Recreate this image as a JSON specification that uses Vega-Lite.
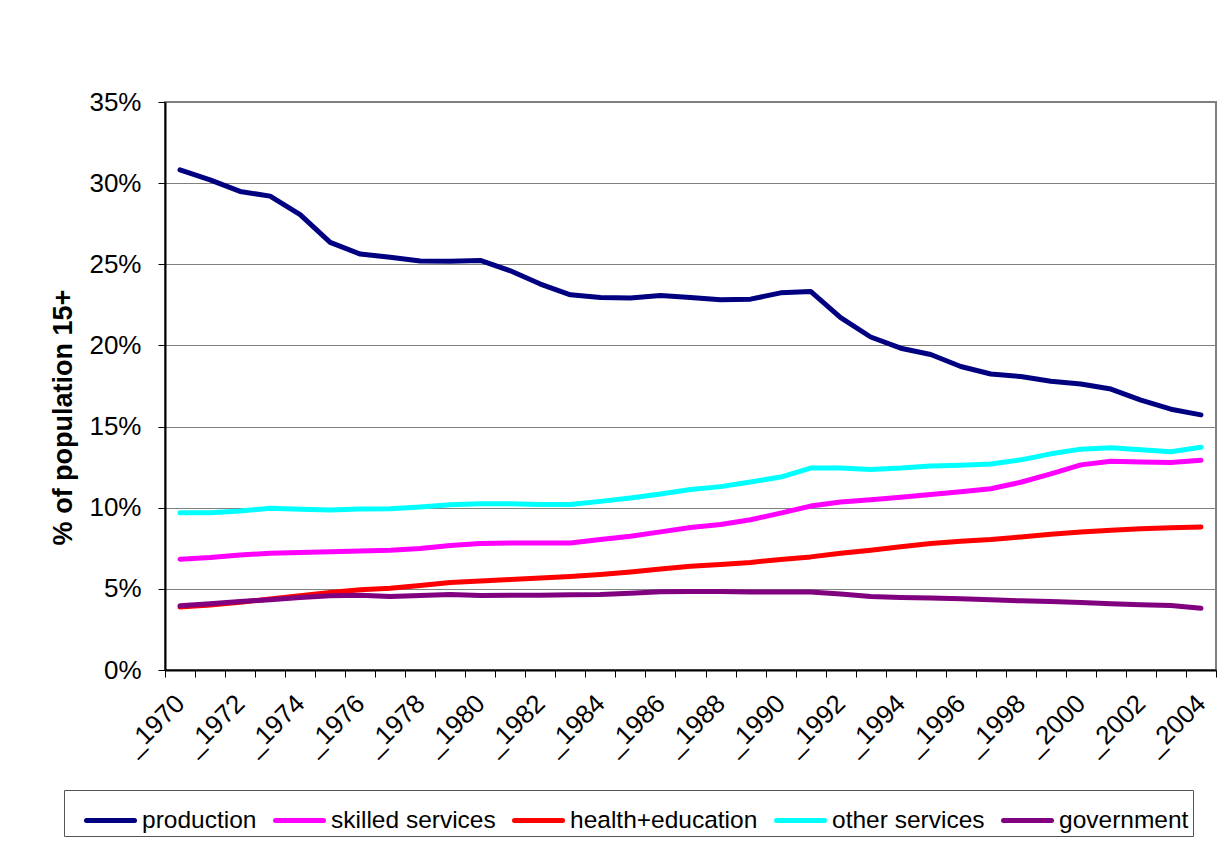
{
  "$schema": "https://vega.github.io/schema/vega-lite/v6.json",
  "autosize": "none",
  "width": 1051,
  "height": 568,
  "padding": {"left": 165, "top": 102, "right": 11, "bottom": 182},
  "background": "white",
  "data": {
    "values": [
      {"year": "_1970", "sector": "production", "pct": 30.82},
      {"year": "_1971", "sector": "production", "pct": 30.2},
      {"year": "_1972", "sector": "production", "pct": 29.49},
      {"year": "_1973", "sector": "production", "pct": 29.2},
      {"year": "_1974", "sector": "production", "pct": 28.06},
      {"year": "_1975", "sector": "production", "pct": 26.35},
      {"year": "_1976", "sector": "production", "pct": 25.63},
      {"year": "_1977", "sector": "production", "pct": 25.43},
      {"year": "_1978", "sector": "production", "pct": 25.2},
      {"year": "_1979", "sector": "production", "pct": 25.18},
      {"year": "_1980", "sector": "production", "pct": 25.24},
      {"year": "_1981", "sector": "production", "pct": 24.6},
      {"year": "_1982", "sector": "production", "pct": 23.78},
      {"year": "_1983", "sector": "production", "pct": 23.12},
      {"year": "_1984", "sector": "production", "pct": 22.96},
      {"year": "_1985", "sector": "production", "pct": 22.92},
      {"year": "_1986", "sector": "production", "pct": 23.08},
      {"year": "_1987", "sector": "production", "pct": 22.95},
      {"year": "_1988", "sector": "production", "pct": 22.81},
      {"year": "_1989", "sector": "production", "pct": 22.85},
      {"year": "_1990", "sector": "production", "pct": 23.24},
      {"year": "_1991", "sector": "production", "pct": 23.33},
      {"year": "_1992", "sector": "production", "pct": 21.71},
      {"year": "_1993", "sector": "production", "pct": 20.52},
      {"year": "_1994", "sector": "production", "pct": 19.83},
      {"year": "_1995", "sector": "production", "pct": 19.44},
      {"year": "_1996", "sector": "production", "pct": 18.7},
      {"year": "_1997", "sector": "production", "pct": 18.24},
      {"year": "_1998", "sector": "production", "pct": 18.08},
      {"year": "_1999", "sector": "production", "pct": 17.79},
      {"year": "_2000", "sector": "production", "pct": 17.62},
      {"year": "_2001", "sector": "production", "pct": 17.31},
      {"year": "_2002", "sector": "production", "pct": 16.63},
      {"year": "_2003", "sector": "production", "pct": 16.07},
      {"year": "_2004", "sector": "production", "pct": 15.72},

      {"year": "_1970", "sector": "skilled services", "pct": 6.83},
      {"year": "_1971", "sector": "skilled services", "pct": 6.93},
      {"year": "_1972", "sector": "skilled services", "pct": 7.08},
      {"year": "_1973", "sector": "skilled services", "pct": 7.2},
      {"year": "_1974", "sector": "skilled services", "pct": 7.24},
      {"year": "_1975", "sector": "skilled services", "pct": 7.28},
      {"year": "_1976", "sector": "skilled services", "pct": 7.34},
      {"year": "_1977", "sector": "skilled services", "pct": 7.38},
      {"year": "_1978", "sector": "skilled services", "pct": 7.48},
      {"year": "_1979", "sector": "skilled services", "pct": 7.67},
      {"year": "_1980", "sector": "skilled services", "pct": 7.79},
      {"year": "_1981", "sector": "skilled services", "pct": 7.83},
      {"year": "_1982", "sector": "skilled services", "pct": 7.83},
      {"year": "_1983", "sector": "skilled services", "pct": 7.83},
      {"year": "_1984", "sector": "skilled services", "pct": 8.04},
      {"year": "_1985", "sector": "skilled services", "pct": 8.24},
      {"year": "_1986", "sector": "skilled services", "pct": 8.51},
      {"year": "_1987", "sector": "skilled services", "pct": 8.78},
      {"year": "_1988", "sector": "skilled services", "pct": 8.96},
      {"year": "_1989", "sector": "skilled services", "pct": 9.26},
      {"year": "_1990", "sector": "skilled services", "pct": 9.67},
      {"year": "_1991", "sector": "skilled services", "pct": 10.1},
      {"year": "_1992", "sector": "skilled services", "pct": 10.35},
      {"year": "_1993", "sector": "skilled services", "pct": 10.49},
      {"year": "_1994", "sector": "skilled services", "pct": 10.65},
      {"year": "_1995", "sector": "skilled services", "pct": 10.82},
      {"year": "_1996", "sector": "skilled services", "pct": 10.98},
      {"year": "_1997", "sector": "skilled services", "pct": 11.17},
      {"year": "_1998", "sector": "skilled services", "pct": 11.57},
      {"year": "_1999", "sector": "skilled services", "pct": 12.09},
      {"year": "_2000", "sector": "skilled services", "pct": 12.64},
      {"year": "_2001", "sector": "skilled services", "pct": 12.86},
      {"year": "_2002", "sector": "skilled services", "pct": 12.82},
      {"year": "_2003", "sector": "skilled services", "pct": 12.78},
      {"year": "_2004", "sector": "skilled services", "pct": 12.92},

      {"year": "_1970", "sector": "health+education", "pct": 3.88},
      {"year": "_1971", "sector": "health+education", "pct": 4.0},
      {"year": "_1972", "sector": "health+education", "pct": 4.18},
      {"year": "_1973", "sector": "health+education", "pct": 4.37},
      {"year": "_1974", "sector": "health+education", "pct": 4.57},
      {"year": "_1975", "sector": "health+education", "pct": 4.78},
      {"year": "_1976", "sector": "health+education", "pct": 4.94},
      {"year": "_1977", "sector": "health+education", "pct": 5.04},
      {"year": "_1978", "sector": "health+education", "pct": 5.2},
      {"year": "_1979", "sector": "health+education", "pct": 5.39},
      {"year": "_1980", "sector": "health+education", "pct": 5.49},
      {"year": "_1981", "sector": "health+education", "pct": 5.57},
      {"year": "_1982", "sector": "health+education", "pct": 5.67},
      {"year": "_1983", "sector": "health+education", "pct": 5.76},
      {"year": "_1984", "sector": "health+education", "pct": 5.88},
      {"year": "_1985", "sector": "health+education", "pct": 6.04},
      {"year": "_1986", "sector": "health+education", "pct": 6.23},
      {"year": "_1987", "sector": "health+education", "pct": 6.4},
      {"year": "_1988", "sector": "health+education", "pct": 6.5},
      {"year": "_1989", "sector": "health+education", "pct": 6.63},
      {"year": "_1990", "sector": "health+education", "pct": 6.81},
      {"year": "_1991", "sector": "health+education", "pct": 6.97},
      {"year": "_1992", "sector": "health+education", "pct": 7.2},
      {"year": "_1993", "sector": "health+education", "pct": 7.38},
      {"year": "_1994", "sector": "health+education", "pct": 7.59},
      {"year": "_1995", "sector": "health+education", "pct": 7.79},
      {"year": "_1996", "sector": "health+education", "pct": 7.93},
      {"year": "_1997", "sector": "health+education", "pct": 8.04},
      {"year": "_1998", "sector": "health+education", "pct": 8.2},
      {"year": "_1999", "sector": "health+education", "pct": 8.36},
      {"year": "_2000", "sector": "health+education", "pct": 8.51},
      {"year": "_2001", "sector": "health+education", "pct": 8.61},
      {"year": "_2002", "sector": "health+education", "pct": 8.71},
      {"year": "_2003", "sector": "health+education", "pct": 8.77},
      {"year": "_2004", "sector": "health+education", "pct": 8.81},

      {"year": "_1970", "sector": "other services", "pct": 9.69},
      {"year": "_1971", "sector": "other services", "pct": 9.69},
      {"year": "_1972", "sector": "other services", "pct": 9.8},
      {"year": "_1973", "sector": "other services", "pct": 9.96},
      {"year": "_1974", "sector": "other services", "pct": 9.9},
      {"year": "_1975", "sector": "other services", "pct": 9.86},
      {"year": "_1976", "sector": "other services", "pct": 9.92},
      {"year": "_1977", "sector": "other services", "pct": 9.94},
      {"year": "_1978", "sector": "other services", "pct": 10.04},
      {"year": "_1979", "sector": "other services", "pct": 10.18},
      {"year": "_1980", "sector": "other services", "pct": 10.25},
      {"year": "_1981", "sector": "other services", "pct": 10.25},
      {"year": "_1982", "sector": "other services", "pct": 10.2},
      {"year": "_1983", "sector": "other services", "pct": 10.2},
      {"year": "_1984", "sector": "other services", "pct": 10.39},
      {"year": "_1985", "sector": "other services", "pct": 10.6},
      {"year": "_1986", "sector": "other services", "pct": 10.84},
      {"year": "_1987", "sector": "other services", "pct": 11.12},
      {"year": "_1988", "sector": "other services", "pct": 11.3},
      {"year": "_1989", "sector": "other services", "pct": 11.58},
      {"year": "_1990", "sector": "other services", "pct": 11.89},
      {"year": "_1991", "sector": "other services", "pct": 12.44},
      {"year": "_1992", "sector": "other services", "pct": 12.44},
      {"year": "_1993", "sector": "other services", "pct": 12.36},
      {"year": "_1994", "sector": "other services", "pct": 12.44},
      {"year": "_1995", "sector": "other services", "pct": 12.57},
      {"year": "_1996", "sector": "other services", "pct": 12.61},
      {"year": "_1997", "sector": "other services", "pct": 12.69},
      {"year": "_1998", "sector": "other services", "pct": 12.95},
      {"year": "_1999", "sector": "other services", "pct": 13.32},
      {"year": "_2000", "sector": "other services", "pct": 13.61},
      {"year": "_2001", "sector": "other services", "pct": 13.69},
      {"year": "_2002", "sector": "other services", "pct": 13.57},
      {"year": "_2003", "sector": "other services", "pct": 13.45},
      {"year": "_2004", "sector": "other services", "pct": 13.73},

      {"year": "_1970", "sector": "government", "pct": 3.96},
      {"year": "_1971", "sector": "government", "pct": 4.08},
      {"year": "_1972", "sector": "government", "pct": 4.22},
      {"year": "_1973", "sector": "government", "pct": 4.33},
      {"year": "_1974", "sector": "government", "pct": 4.47},
      {"year": "_1975", "sector": "government", "pct": 4.57},
      {"year": "_1976", "sector": "government", "pct": 4.61},
      {"year": "_1977", "sector": "government", "pct": 4.53},
      {"year": "_1978", "sector": "government", "pct": 4.59},
      {"year": "_1979", "sector": "government", "pct": 4.65},
      {"year": "_1980", "sector": "government", "pct": 4.59},
      {"year": "_1981", "sector": "government", "pct": 4.61},
      {"year": "_1982", "sector": "government", "pct": 4.61},
      {"year": "_1983", "sector": "government", "pct": 4.63},
      {"year": "_1984", "sector": "government", "pct": 4.65},
      {"year": "_1985", "sector": "government", "pct": 4.73},
      {"year": "_1986", "sector": "government", "pct": 4.82},
      {"year": "_1987", "sector": "government", "pct": 4.84},
      {"year": "_1988", "sector": "government", "pct": 4.84},
      {"year": "_1989", "sector": "government", "pct": 4.8},
      {"year": "_1990", "sector": "government", "pct": 4.8},
      {"year": "_1991", "sector": "government", "pct": 4.8},
      {"year": "_1992", "sector": "government", "pct": 4.69},
      {"year": "_1993", "sector": "government", "pct": 4.53},
      {"year": "_1994", "sector": "government", "pct": 4.47},
      {"year": "_1995", "sector": "government", "pct": 4.43},
      {"year": "_1996", "sector": "government", "pct": 4.39},
      {"year": "_1997", "sector": "government", "pct": 4.33},
      {"year": "_1998", "sector": "government", "pct": 4.26},
      {"year": "_1999", "sector": "government", "pct": 4.22},
      {"year": "_2000", "sector": "government", "pct": 4.16},
      {"year": "_2001", "sector": "government", "pct": 4.08},
      {"year": "_2002", "sector": "government", "pct": 4.02},
      {"year": "_2003", "sector": "government", "pct": 3.98},
      {"year": "_2004", "sector": "government", "pct": 3.81}
    ]
  },
  "mark": {"type": "line", "strokeWidth": 5, "strokeCap": "round", "strokeJoin": "round"},
  "encoding": {
    "x": {
      "field": "year",
      "type": "ordinal",
      "sort": null,
      "scale": {"type": "band", "paddingInner": 0, "paddingOuter": 0},
      "axis": {
        "title": null,
        "tickBand": "extent",
        "labelAngle": -45,
        "labelAlign": "right",
        "labelBaseline": "middle",
        "labelOverlap": false,
        "labelFontSize": 26,
        "labelPadding": 22,
        "labelExpr": "toNumber(substring(datum.value, 1)) % 2 == 0 ? datum.value : ''",
        "grid": false
      }
    },
    "y": {
      "field": "pct",
      "type": "quantitative",
      "scale": {"domain": [0, 35], "nice": false, "zero": true},
      "axis": {
        "title": "% of population 15+",
        "values": [0, 5, 10, 15, 20, 25, 30, 35],
        "labelExpr": "datum.value + '%'",
        "labelFontSize": 26,
        "labelPadding": 17,
        "grid": true,
        "titleX": -102,
        "titleY": 315,
        "titleAngle": -90,
        "titleAlign": "center",
        "titleBaseline": "middle"
      }
    },
    "color": {
      "field": "sector",
      "type": "nominal",
      "scale": {
        "domain": ["production", "skilled services", "health+education", "other services", "government"],
        "range": ["#000080", "#FF00FF", "#FF0000", "#00FFFF", "#800080"]
      },
      "legend": {
        "title": null,
        "orient": "none",
        "legendX": -101,
        "legendY": 688,
        "direction": "horizontal",
        "columns": 5,
        "symbolType": "stroke",
        "symbolSize": 2304,
        "symbolStrokeWidth": 5,
        "symbolOffset": 16,
        "labelFontSize": 24.5,
        "labelFont": "Liberation Sans",
        "labelColor": "#000000",
        "labelLimit": 0,
        "labelOffset": 5,
        "columnPadding": -5,
        "padding": 4,
        "strokeColor": "#555555",
        "fillColor": "white",
        "encode": {
          "symbols": {"update": {"strokeCap": {"value": "round"}}}
        }
      }
    }
  },
  "config": {
    "font": "Liberation Sans",
    "view": {"stroke": "#808080", "strokeWidth": 2},
    "axis": {
      "labelFont": "Liberation Sans",
      "labelColor": "#000000",
      "titleFont": "Liberation Sans",
      "titleFontSize": 27,
      "titleFontWeight": "bold",
      "titleColor": "#000000",
      "domainColor": "#000000",
      "domainWidth": 2,
      "tickColor": "#000000",
      "tickSize": 7,
      "tickWidth": 1,
      "gridColor": "#808080",
      "gridWidth": 1
    }
  }
}
